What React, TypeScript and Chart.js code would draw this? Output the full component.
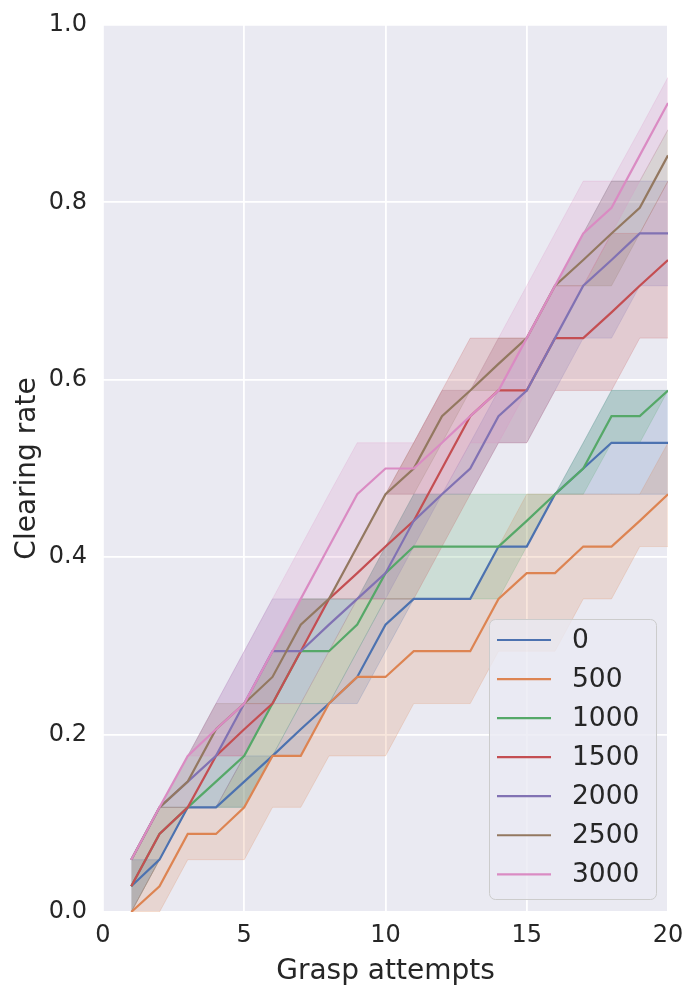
import React, { useEffect, useRef } from 'react';
import { Chart, registerables } from 'chart.js';

Chart.register(...registerables);

// grasp attempt number (x)
const attempts = [1, 2, 3, 4, 5, 6, 7, 8, 9, 10, 11, 12, 13, 14, 15, 16, 17, 18, 19, 20];

const seriesNames = ['0', '500', '1000', '1500', '2000', '2500', '3000'];
const seriesColors = ['#4c72b0', '#dd8452', '#55a868', '#c44e52', '#8172b3', '#937860', '#da8bc3'];

// mean clearing rate + band (lower / upper) per series
const mean0 = [0.029, 0.059, 0.118, 0.118, 0.147, 0.176, 0.206, 0.235, 0.265, 0.324, 0.353, 0.353, 0.353, 0.412, 0.412, 0.471, 0.5, 0.529, 0.529, 0.529];
const lower0 = [0, 0.059, 0.118, 0.118, 0.118, 0.176, 0.176, 0.235, 0.235, 0.294, 0.353, 0.353, 0.353, 0.412, 0.412, 0.471, 0.471, 0.471, 0.471, 0.471];
const upper0 = [0.059, 0.059, 0.118, 0.118, 0.176, 0.176, 0.235, 0.235, 0.294, 0.353, 0.353, 0.353, 0.353, 0.412, 0.412, 0.471, 0.529, 0.588, 0.588, 0.588];

const mean500 = [0, 0.029, 0.088, 0.088, 0.118, 0.176, 0.176, 0.235, 0.265, 0.265, 0.294, 0.294, 0.294, 0.353, 0.382, 0.382, 0.412, 0.412, 0.441, 0.471];
const lower500 = [0, 0, 0.059, 0.059, 0.059, 0.118, 0.118, 0.176, 0.176, 0.176, 0.235, 0.235, 0.235, 0.294, 0.294, 0.294, 0.353, 0.353, 0.412, 0.412];
const upper500 = [0, 0.059, 0.118, 0.118, 0.176, 0.235, 0.235, 0.294, 0.353, 0.353, 0.353, 0.353, 0.353, 0.412, 0.471, 0.471, 0.471, 0.471, 0.471, 0.529];

const mean1000 = [0.029, 0.088, 0.118, 0.147, 0.176, 0.235, 0.294, 0.294, 0.324, 0.382, 0.412, 0.412, 0.412, 0.412, 0.441, 0.471, 0.5, 0.559, 0.559, 0.588];
const lower1000 = [0, 0.059, 0.118, 0.118, 0.118, 0.176, 0.235, 0.235, 0.294, 0.353, 0.353, 0.353, 0.353, 0.353, 0.412, 0.471, 0.471, 0.529, 0.529, 0.588];
const upper1000 = [0.059, 0.118, 0.118, 0.176, 0.235, 0.294, 0.353, 0.353, 0.353, 0.412, 0.471, 0.471, 0.471, 0.471, 0.471, 0.471, 0.529, 0.588, 0.588, 0.588];

const mean1500 = [0.029, 0.088, 0.118, 0.176, 0.206, 0.235, 0.294, 0.353, 0.382, 0.412, 0.441, 0.5, 0.559, 0.588, 0.588, 0.647, 0.647, 0.676, 0.706, 0.735];
const lower1500 = [0, 0.059, 0.118, 0.176, 0.176, 0.235, 0.294, 0.353, 0.353, 0.353, 0.353, 0.412, 0.471, 0.529, 0.529, 0.588, 0.588, 0.588, 0.647, 0.647];
const upper1500 = [0.059, 0.118, 0.118, 0.176, 0.235, 0.235, 0.294, 0.353, 0.412, 0.471, 0.529, 0.588, 0.647, 0.647, 0.647, 0.706, 0.706, 0.765, 0.765, 0.824];

const mean2000 = [0.059, 0.118, 0.147, 0.176, 0.235, 0.294, 0.294, 0.324, 0.353, 0.382, 0.441, 0.471, 0.5, 0.559, 0.588, 0.647, 0.706, 0.735, 0.765, 0.765];
const lower2000 = [0.059, 0.118, 0.118, 0.118, 0.176, 0.235, 0.235, 0.294, 0.353, 0.353, 0.412, 0.471, 0.471, 0.529, 0.529, 0.588, 0.647, 0.647, 0.706, 0.706];
const upper2000 = [0.059, 0.118, 0.176, 0.235, 0.294, 0.353, 0.353, 0.353, 0.353, 0.412, 0.471, 0.471, 0.529, 0.588, 0.647, 0.706, 0.765, 0.824, 0.824, 0.824];

const mean2500 = [0.059, 0.118, 0.147, 0.206, 0.235, 0.265, 0.324, 0.353, 0.412, 0.471, 0.5, 0.559, 0.588, 0.618, 0.647, 0.706, 0.735, 0.765, 0.794, 0.853];
const lower2500 = [0.059, 0.118, 0.118, 0.176, 0.235, 0.235, 0.294, 0.353, 0.412, 0.471, 0.471, 0.529, 0.588, 0.588, 0.647, 0.706, 0.706, 0.706, 0.765, 0.824];
const upper2500 = [0.059, 0.118, 0.176, 0.235, 0.235, 0.294, 0.353, 0.353, 0.412, 0.471, 0.529, 0.588, 0.588, 0.647, 0.647, 0.706, 0.765, 0.824, 0.824, 0.882];

const mean3000 = [0.059, 0.118, 0.176, 0.206, 0.235, 0.294, 0.353, 0.412, 0.471, 0.5, 0.5, 0.529, 0.559, 0.588, 0.647, 0.706, 0.765, 0.794, 0.853, 0.912];
const lower3000 = [0.059, 0.118, 0.176, 0.176, 0.176, 0.235, 0.294, 0.353, 0.412, 0.471, 0.471, 0.471, 0.529, 0.529, 0.588, 0.647, 0.706, 0.765, 0.824, 0.882];
const upper3000 = [0.059, 0.118, 0.176, 0.235, 0.294, 0.353, 0.412, 0.471, 0.529, 0.529, 0.529, 0.588, 0.588, 0.647, 0.706, 0.765, 0.824, 0.824, 0.882, 0.941];

const means = [mean0, mean500, mean1000, mean1500, mean2000, mean2500, mean3000];
const lowers = [lower0, lower500, lower1000, lower1500, lower2000, lower2500, lower3000];
const uppers = [upper0, upper500, upper1000, upper1500, upper2000, upper2500, upper3000];

const yTicks = [0, 0.2, 0.4, 0.6, 0.8, 1.0];
const xTicks = [0, 5, 10, 15, 20];

const FONT = '"DejaVu Sans", sans-serif';
const TEXT = '#262626';

const toPoints = (ys: number[]) => attempts.map((x, i) => ({ x, y: ys[i] }));

const alpha = (hex: string, a: number) => {
  const n = parseInt(hex.slice(1), 16);
  return `rgba(${(n >> 16) & 255}, ${(n >> 8) & 255}, ${n & 255}, ${a})`;
};

// grey plot background, like seaborn darkgrid
const backgroundPlugin = {
  id: 'plotBackground',
  beforeDraw(chart: any) {
    const { ctx, chartArea } = chart;
    ctx.save();
    ctx.fillStyle = '#eaeaf2';
    ctx.fillRect(chartArea.left, chartArea.top, chartArea.right - chartArea.left, chartArea.bottom - chartArea.top);
    ctx.restore();
  },
};

// legend box in the lower right corner of the plot
const legendPlugin = {
  id: 'cornerLegend',
  afterDraw(chart: any) {
    const { ctx, chartArea } = chart;
    const w = 167;
    const h = 280;
    const x = chartArea.right - 12 - w;
    const y = chartArea.bottom - 13 - h;
    ctx.save();
    ctx.beginPath();
    ctx.roundRect(x + 0.5, y + 0.5, w, h, 6);
    ctx.fillStyle = 'rgba(234, 234, 242, 0.8)';
    ctx.fill();
    ctx.strokeStyle = '#cccccc';
    ctx.lineWidth = 1;
    ctx.stroke();
    ctx.font = `26.5px ${FONT}`;
    ctx.textBaseline = 'middle';
    ctx.textAlign = 'left';
    seriesNames.forEach((name, i) => {
      const cy = y + 21 + i * 39.05;
      ctx.beginPath();
      ctx.moveTo(x + 8, cy);
      ctx.lineTo(x + 62, cy);
      ctx.strokeStyle = seriesColors[i];
      ctx.lineWidth = 2.2;
      ctx.stroke();
      ctx.fillStyle = TEXT;
      ctx.fillText(name, x + 83, cy + 1);
    });
    ctx.restore();
  },
};

const ClearingRateChart: React.FC = () => {
  const chartRef = useRef<HTMLCanvasElement>(null);

  useEffect(() => {
    const ctx = chartRef.current?.getContext('2d');
    if (!ctx) return;

    const bandSets: any[] = [];
    seriesNames.forEach((name, i) => {
      bandSets.push({
        label: `${name} upper`,
        data: toPoints(uppers[i]),
        borderColor: alpha(seriesColors[i], 0.2),
        backgroundColor: alpha(seriesColors[i], 0.2),
        borderWidth: 1,
        pointRadius: 0,
        fill: '+1',
        order: 20 - i,
      });
      bandSets.push({
        label: `${name} lower`,
        data: toPoints(lowers[i]),
        borderColor: alpha(seriesColors[i], 0.2),
        borderWidth: 1,
        pointRadius: 0,
        fill: false,
        order: 20 - i,
      });
    });

    const lineSets = seriesNames.map((name, i) => ({
      label: name,
      data: toPoints(means[i]),
      borderColor: seriesColors[i],
      borderWidth: 2.2,
      pointRadius: 0,
      fill: false,
      order: 6 - i,
    }));

    const chart = new Chart(ctx, {
      type: 'line',
      data: { datasets: [...bandSets, ...lineSets] },
      options: {
        animation: false,
        responsive: false,
        devicePixelRatio: 1,
        layout: { padding: { top: 25, right: 32, bottom: 0, left: 0 } },
        plugins: {
          legend: { display: false },
          tooltip: { enabled: false },
          filler: { drawTime: 'beforeDatasetsDraw' },
        },
        scales: {
          x: {
            type: 'linear',
            min: 0,
            max: 20,
            afterFit: (s: any) => {
              s.height = 88;
            },
            afterBuildTicks: (s: any) => {
              s.ticks = xTicks.map((v) => ({ value: v }));
            },
            // invisible tick marks make the gap, so the tick padding does not push the plot
            grid: { color: '#ffffff', lineWidth: 1.8, drawTicks: true, tickLength: 9, tickColor: 'rgba(0,0,0,0)' },
            border: { display: false },
            ticks: { padding: 0, color: TEXT, font: { family: FONT, size: 24 } },
            title: {
              display: true,
              text: 'Grasp attempts',
              color: TEXT,
              font: { family: FONT, size: 28 },
              padding: { top: 0, bottom: 11 },
            },
          },
          y: {
            type: 'linear',
            min: 0,
            max: 1,
            afterFit: (s: any) => {
              s.width = 103;
            },
            afterBuildTicks: (s: any) => {
              s.ticks = yTicks.map((v) => ({ value: v }));
            },
            grid: { color: '#ffffff', lineWidth: 1.8, drawTicks: true, tickLength: 16, tickColor: 'rgba(0,0,0,0)' },
            border: { display: false },
            ticks: {
              padding: 0,
              color: TEXT,
              font: { family: FONT, size: 24 },
              callback: (v: any) => Number(v).toFixed(1),
            },
            title: {
              display: true,
              text: 'Clearing rate',
              color: TEXT,
              font: { family: FONT, size: 28 },
              padding: { top: 11, bottom: 0 },
            },
          },
        },
      } as any,
      plugins: [backgroundPlugin, legendPlugin],
    });

    return () => {
      chart.destroy();
    };
  }, []);

  return (
    <div style={{ position: 'fixed', left: 0, top: 0, width: 700, height: 1000, background: '#ffffff' }}>
      <canvas ref={chartRef} width={700} height={1000} style={{ width: 700, height: 1000 }}></canvas>
    </div>
  );
};

export default function App() {
  return <ClearingRateChart />;
}
